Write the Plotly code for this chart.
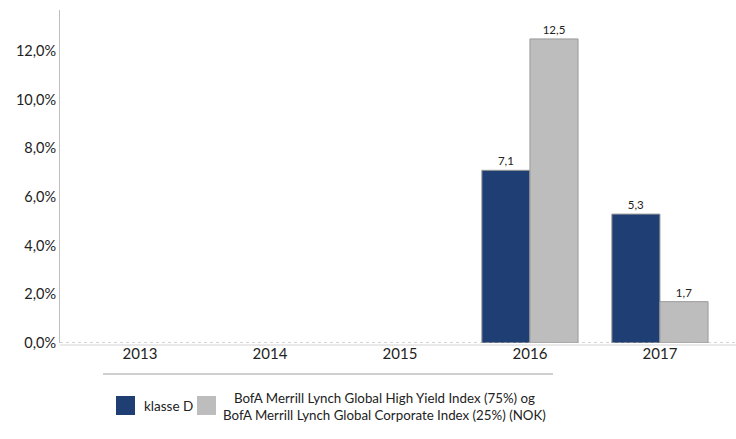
import plotly.graph_objects as go

years = ["2013", "2014", "2015", "2016", "2017"]
series_a_name = "klasse D"
series_a = [None, None, None, 7.1, 5.3]
series_b_name = "BofA Merrill Lynch Global High Yield Index (75%) og<br>BofA Merrill Lynch Global Corporate Index (25%) (NOK)"
series_b = [None, None, None, 12.5, 1.7]
y_ticks = [0, 2, 4, 6, 8, 10, 12]
y_ticktext = [f"{v:.1f}".replace(".", ",") + "%" for v in y_ticks]

navy = "#1f3f74"
grey = "#bdbdbd"
font = "Lato"

fig = go.Figure()
fig.add_trace(go.Bar(x=years, y=series_a, name=series_a_name, marker=dict(color=navy, line=dict(color="#9a9a9a", width=1)),
                     texttemplate="%{y:.1f}", textposition="outside", textfont=dict(size=11.5, color="#222222"), cliponaxis=False))
fig.add_trace(go.Bar(x=years, y=series_b, name=series_b_name, marker=dict(color=grey, line=dict(color="#9a9a9a", width=1)),
                     texttemplate="%{y:.1f}", textposition="outside", textfont=dict(size=11.5, color="#222222"), cliponaxis=False))

W, H = 736, 439
L, R, T, B = 60, 0, 10, 96
pw, ph = W - L - R, H - T - B

def px(x):
    return (x - L) / pw

def py(y):
    return (H - B - y) / ph

shapes = [
    dict(type="line", xref="paper", yref="paper", x0=0, x1=1, y0=py(345), y1=py(345), line=dict(color="#d4d4d4", width=1)),
    dict(type="line", xref="paper", yref="y", x0=0, x1=1, y0=0, y1=0, line=dict(color="#a6a6a6", width=1, dash="dot")),
    dict(type="line", xref="paper", yref="paper", x0=px(103), x1=px(553), y0=py(374), y1=py(374), line=dict(color="#a0a0a0", width=1)),
    dict(type="rect", xref="paper", yref="paper", x0=px(116), x1=px(135), y0=py(396), y1=py(415), fillcolor=navy, line=dict(width=0)),
    dict(type="rect", xref="paper", yref="paper", x0=px(197), x1=px(216), y0=py(396), y1=py(415), fillcolor=grey, line=dict(width=0)),
]
annotations = [
    dict(xref="paper", yref="paper", x=px(142), y=py(406), text=series_a_name, showarrow=False, xanchor="left", yanchor="middle",
         font=dict(family=font, size=13.5, color="#222222")),
    dict(xref="paper", yref="paper", x=px(384), y=py(406), text=series_b_name, showarrow=False, xanchor="center", yanchor="middle",
         align="center", font=dict(family=font, size=13.3, color="#222222")),
]

fig.update_layout(
    width=W, height=H,
    margin=dict(l=L, r=R, t=T, b=B, autoexpand=False),
    paper_bgcolor="white", plot_bgcolor="white",
    separators=", ",
    barmode="group", bargap=0.26, bargroupgap=0,
    showlegend=False,
    font=dict(family=font, size=14, color="#222222"),
    xaxis=dict(type="category", range=[-0.615, 4.585], showgrid=False, showline=False, ticks="",
               tickfont=dict(size=15, color="#222222"), automargin=False),
    yaxis=dict(range=[0, 13.69], tickmode="array", tickvals=y_ticks, ticktext=y_ticktext, showgrid=False, zeroline=False,
               showline=True, linecolor="#bfbfbf", linewidth=1, ticks="", tickfont=dict(size=14.5, color="#222222"),
               automargin=False),
    shapes=shapes,
    annotations=annotations,
)

fig.write_html("out.html", config={"displayModeBar": False},
               post_script="document.body.style.margin='0';document.body.style.padding='0';")
